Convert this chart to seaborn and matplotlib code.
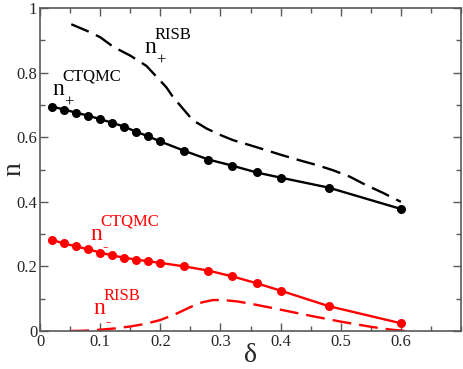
import numpy as np
import pandas as pd
import matplotlib
matplotlib.use("Agg")
import matplotlib.pyplot as plt
from matplotlib.ticker import MultipleLocator
import seaborn as sns

sns.set_style("ticks")
plt.rcParams['font.family'] = ['Liberation Serif', 'DejaVu Serif']

# CTQMC data (points)
delta_qmc = [0.02, 0.04, 0.06, 0.08, 0.10, 0.12, 0.14, 0.16, 0.18, 0.20,
             0.24, 0.28, 0.32, 0.36, 0.40, 0.48, 0.60]
n_plus_qmc = [0.695, 0.686, 0.676, 0.667, 0.656, 0.645, 0.633, 0.617, 0.603, 0.587,
              0.558, 0.531, 0.512, 0.491, 0.475, 0.444, 0.378]
n_minus_qmc = [0.282, 0.271, 0.262, 0.253, 0.243, 0.234, 0.227, 0.221, 0.216, 0.211,
               0.200, 0.187, 0.169, 0.148, 0.125, 0.077, 0.024]

# RISB curves (dashed)
delta_risb_p = [0.052, 0.08, 0.10, 0.122, 0.15, 0.177, 0.194, 0.21, 0.221, 0.237, 0.254,
                0.277, 0.30, 0.321, 0.35, 0.376, 0.40, 0.431, 0.46, 0.487, 0.515, 0.542, 0.57, 0.60]
n_plus_risb = [0.950, 0.928, 0.910, 0.880, 0.853, 0.821, 0.787, 0.755, 0.725, 0.690, 0.653,
               0.627, 0.607, 0.591, 0.575, 0.560, 0.546, 0.529, 0.514, 0.498, 0.478, 0.452, 0.428, 0.400]
delta_risb_m = [0.05, 0.075, 0.10, 0.125, 0.15, 0.175, 0.20, 0.225, 0.25, 0.27, 0.288,
                0.31, 0.33, 0.36, 0.40, 0.45, 0.50, 0.55, 0.58, 0.608]
n_minus_risb = [0.0, 0.001, 0.004, 0.008, 0.014, 0.022, 0.034, 0.052, 0.074, 0.089, 0.096,
                0.095, 0.091, 0.081, 0.066, 0.047, 0.029, 0.013, 0.005, 0.0]

qmc = pd.DataFrame({"delta": delta_qmc, "plus": n_plus_qmc, "minus": n_minus_qmc})
risb_p = pd.DataFrame({"delta": delta_risb_p, "n": n_plus_risb})
risb_m = pd.DataFrame({"delta": delta_risb_m, "n": n_minus_risb})

fig = plt.figure(figsize=(4.63, 3.69), dpi=100)
ax = fig.add_axes([0.0864, 0.103, 0.9093, 0.875])

lw = 1.7
dash = (8, 3.4)
sns.lineplot(data=risb_p, x="delta", y="n", ax=ax, color="black", linewidth=lw,
             sort=False, estimator=None)
ax.lines[-1].set_dashes(dash)
sns.lineplot(data=risb_m, x="delta", y="n", ax=ax, color="red", linewidth=lw,
             sort=False, estimator=None)
ax.lines[-1].set_dashes(dash)

sns.lineplot(data=qmc, x="delta", y="plus", ax=ax, color="black", linewidth=lw,
             marker="o", markersize=6.5, markeredgewidth=0, estimator=None)
sns.lineplot(data=qmc, x="delta", y="minus", ax=ax, color="red", linewidth=lw,
             marker="o", markersize=6.5, markeredgewidth=0, estimator=None)

ax.set_xlim(0, 0.7)
ax.set_ylim(0, 1)
ax.set_xticks([0, 0.1, 0.2, 0.3, 0.4, 0.5, 0.6])
ax.set_xticklabels(["0", "0.1", "0.2", "0.3", "0.4", "0.5", "0.6"])
ax.set_yticks([0, 0.2, 0.4, 0.6, 0.8, 1.0])
ax.set_yticklabels(["0", "0.2", "0.4", "0.6", "0.8", "1"])
ax.xaxis.set_minor_locator(MultipleLocator(0.05))
ax.yaxis.set_minor_locator(MultipleLocator(0.1))
ax.tick_params(which="both", direction="in", top=True, right=True, color="0.35",
               labelsize=12, pad=2)
ax.tick_params(which="major", length=6, width=1)
ax.tick_params(which="minor", length=3.5, width=1)
for s in ax.spines.values():
    s.set_color("0.35")
    s.set_linewidth(1.2)

ax.set_xlabel("δ", fontsize=20, labelpad=-5)
ax.set_ylabel("n", fontsize=20, labelpad=-7)


def label(x, y, sup, sub, color):
    ax.text(x, y, "n", fontsize=17, color=color, ha="left", va="baseline")
    ax.text(x + 0.020, y - 0.036, sub, fontsize=12, color=color, ha="left", va="baseline")
    ax.text(x + 0.018, y + 0.045, sup, fontsize=12, color=color, ha="left", va="baseline")


label(0.02, 0.73, "CTQMC", "+", "black")
label(0.173, 0.86, "RISB", "+", "black")
label(0.083, 0.283, "CTQMC", "-", "red")
label(0.088, 0.052, "RISB", "-", "red")

fig.savefig("out.png", dpi=100)
